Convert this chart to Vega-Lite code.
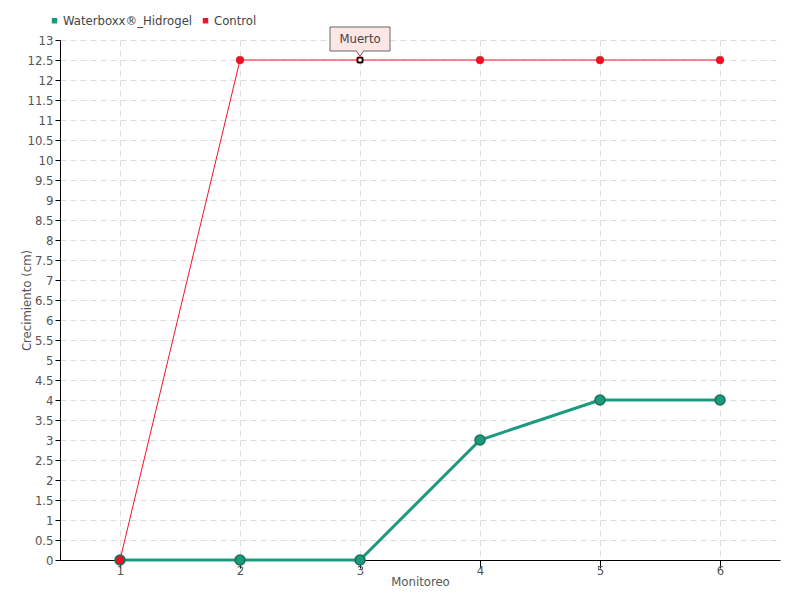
{
  "$schema": "https://vega.github.io/schema/vega-lite/v6.json",
  "autosize": {"type": "none"},
  "padding": {"left": 60, "top": 40, "right": 20, "bottom": 40},
  "width": 720,
  "height": 520,
  "background": "white",
  "config": {
    "font": "DejaVu Sans Condensed, Liberation Sans, sans-serif",
    "view": {"stroke": null},
    "axis": {
      "labelFont": "DejaVu Sans Condensed, Liberation Sans, sans-serif",
      "titleFont": "DejaVu Sans Condensed, Liberation Sans, sans-serif",
      "labelColor": "#555555",
      "titleColor": "#555555",
      "labelFontSize": 13,
      "titleFontSize": 13,
      "titleFontWeight": "normal",
      "domainColor": "#000000",
      "tickColor": "#000000",
      "gridColor": "#dddddd",
      "gridDash": [6, 4],
      "gridWidth": 1
    }
  },
  "datasets": {
    "series": [
      {"monitoreo": 1, "serie": "Waterboxx®_Hidrogel", "valor": 0},
      {"monitoreo": 2, "serie": "Waterboxx®_Hidrogel", "valor": 0},
      {"monitoreo": 3, "serie": "Waterboxx®_Hidrogel", "valor": 0},
      {"monitoreo": 4, "serie": "Waterboxx®_Hidrogel", "valor": 3},
      {"monitoreo": 5, "serie": "Waterboxx®_Hidrogel", "valor": 4},
      {"monitoreo": 6, "serie": "Waterboxx®_Hidrogel", "valor": 4},
      {"monitoreo": 1, "serie": "Control", "valor": 0},
      {"monitoreo": 2, "serie": "Control", "valor": 12.5},
      {"monitoreo": 3, "serie": "Control", "valor": 12.5},
      {"monitoreo": 4, "serie": "Control", "valor": 12.5},
      {"monitoreo": 5, "serie": "Control", "valor": 12.5},
      {"monitoreo": 6, "serie": "Control", "valor": 12.5}
    ],
    "notes": [
      {"monitoreo": 3, "valor": 12.5, "label": "Muerto"}
    ]
  },
  "encoding": {
    "x": {
      "field": "monitoreo",
      "type": "ordinal",
      "scale": {"type": "point", "padding": 0.5},
      "axis": {"title": "Monitoreo", "labelAngle": 0, "grid": true, "tickSize": 8, "labelPadding": -4, "titlePadding": -2, "domainWidth": 1}
    },
    "y": {
      "field": "valor",
      "type": "quantitative",
      "scale": {"domain": [0, 13], "nice": false},
      "axis": {"title": "Crecimiento (cm)", "values": [0,0.5,1,1.5,2,2.5,3,3.5,4,4.5,5,5.5,6,6.5,7,7.5,8,8.5,9,9.5,10,10.5,11,11.5,12,12.5,13], "format": "~g", "tickSize": 5, "labelPadding": 2, "titleX": -27, "grid": true}
    }
  },
  "layer": [
    {
      "data": {"name": "series"},
      "transform": [{"filter": "datum.serie === 'Waterboxx®_Hidrogel'"}],
      "mark": {"type": "line", "strokeWidth": 3, "color": "#1b9b7c"},
      "encoding": {}
    },
    {
      "data": {"name": "series"},
      "transform": [{"filter": "datum.serie === 'Waterboxx®_Hidrogel'"}],
      "mark": {"type": "point", "filled": true, "size": 100, "stroke": "#16705a", "strokeWidth": 1.5, "opacity": 1},
      "encoding": {
        "color": {
          "field": "serie",
          "type": "nominal",
          "scale": {"domain": ["Waterboxx®_Hidrogel", "Control"], "range": ["#1b9b7c", "#f0142a"]},
          "legend": {
            "title": null,
            "orient": "none",
            "direction": "horizontal",
            "legendX": -12,
            "legendY": -26,
            "symbolType": "square",
            "symbolSize": 30,
            "symbolStrokeWidth": 0,
            "labelFontSize": 13,
            "labelColor": "#444444",
            "labelFont": "DejaVu Sans Condensed, Liberation Sans, sans-serif",
            "columnPadding": 6,
            "labelOffset": 2
          }
        }
      }
    },
    {
      "data": {"name": "series"},
      "transform": [{"filter": "datum.serie === 'Control'"}],
      "mark": {"type": "line", "strokeWidth": 1, "color": "#f0142a"},
      "encoding": {}
    },
    {
      "data": {"name": "series"},
      "transform": [{"filter": "datum.serie === 'Control' && datum.monitoreo !== 3"}],
      "mark": {"type": "point", "filled": true, "size": 60, "fill": "#ee1122", "stroke": "#c01020", "strokeWidth": 0.5, "opacity": 1},
      "encoding": {}
    },
    {
      "data": {"name": "notes"},
      "mark": {"type": "point", "shape": "circle", "filled": true, "size": 60, "fill": "#ee1122", "opacity": 1},
      "encoding": {}
    },
    {
      "data": {"name": "notes"},
      "mark": {"type": "point", "shape": "square", "filled": true, "size": 22, "fill": "white", "stroke": "black", "strokeWidth": 1.5, "opacity": 1},
      "encoding": {}
    },
    {
      "data": {"name": "notes"},
      "mark": {"type": "point", "shape": "M-1,-0.4H1V0.4H0.12L0,0.58L-0.12,0.4H-1Z", "filled": true, "size": 3600, "fill": "#fde6e6", "stroke": "#666666", "strokeWidth": 1, "opacity": 1, "yOffset": -21},
      "encoding": {}
    },
    {
      "data": {"name": "notes"},
      "mark": {"type": "text", "fontSize": 13, "color": "#444444", "baseline": "middle", "align": "center", "dy": -21},
      "encoding": {"text": {"field": "label"}}
    }
  ]
}
